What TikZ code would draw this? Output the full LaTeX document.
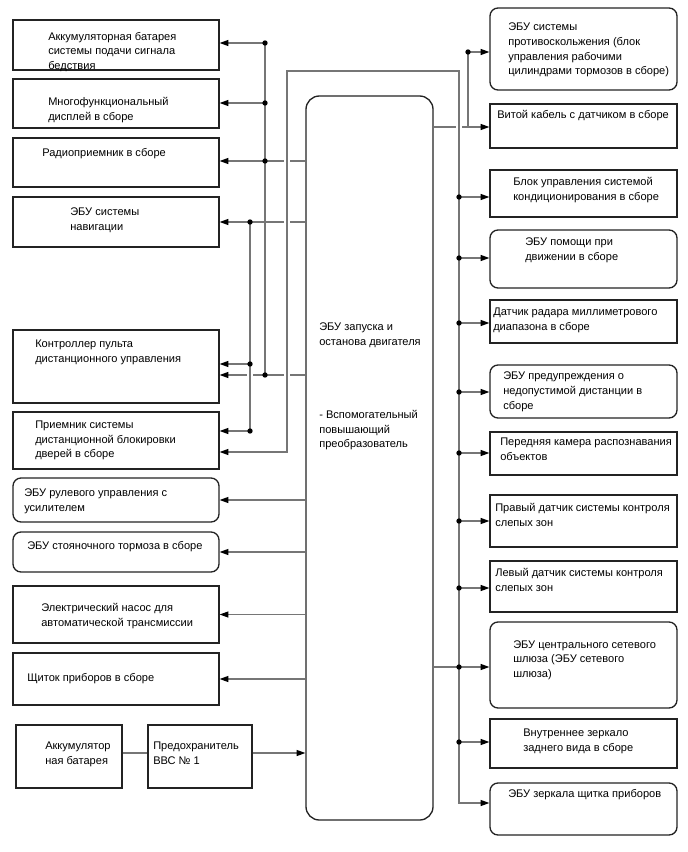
\documentclass[tikz,border=0pt]{standalone}
\usepackage{fontspec}
\setmainfont{Liberation Sans}
\usetikzlibrary{arrows.meta,positioning,fit}
\definecolor{wiregray}{RGB}{118,118,118}
\definecolor{framegray}{RGB}{35,35,35}

\begin{document}
\begin{tikzpicture}[
  x=0.75pt, y=-0.75pt,
  every node/.style={font=\fontsize{8.3}{10.9}\selectfont},
  blk/.style={draw=framegray, line width=1pt, inner sep=0pt},
  rblk/.style={blk, rounded corners=6pt},
  txt/.style={inner sep=0pt, align=left, anchor=north west},
  wire/.style={draw=wiregray, line width=0.8pt},
  tip/.tip={Triangle[length=6.5pt,width=4.5pt,color=black]},
  arr/.style={wire, -tip},
  halo/.style={draw=white, line width=4.5pt},
]
  \useasboundingbox (0,0) rectangle (688,852);

  % Engine stop-start ECU
  \node[blk, rounded corners=10pt, fit={(306,96) (433,820)}] (ecu) {};
  \node[txt] (ecutxt) at (319,323) {ЭБУ запуска и\\останова двигателя};
  \node[txt] (ecuconv) at (319,410) {- Вспомогательный\\повышающий\\преобразователь};

  % Left column
  \node[blk, fit={(13,20) (219,70)}] (l1) {};
  \node[txt] (l1txt) at (48,32) {Аккумуляторная батарея\\системы подачи сигнала\\бедствия};
  \node[blk, fit={(13,79) (219,128)}] (l2) {};
  \node[txt] (l2txt) at (48,97) {Многофункциональный\\дисплей в сборе};
  \node[blk, fit={(13,138) (219,187)}] (l3) {};
  \node[txt] (l3txt) at (42,148) {Радиоприемник в сборе};
  \node[blk, fit={(13,197) (219,247)}] (l4) {};
  \node[txt] (l4txt) at (70,208) {ЭБУ системы\\навигации};
  \node[blk, fit={(13,330) (219,403)}] (l5) {};
  \node[txt] (l5txt) at (35,340) {Контроллер пульта\\дистанционного управления};
  \node[blk, fit={(13,412) (219,469)}] (l6) {};
  \node[txt] (l6txt) at (35,421) {Приемник системы\\дистанционной блокировки\\дверей в сборе};
  \node[rblk, fit={(13,478) (219,522)}] (l7) {};
  \node[txt] (l7txt) at (24,489) {ЭБУ рулевого управления с\\усилителем};
  \node[rblk, fit={(13,532) (219,572)}] (l8) {};
  \node[txt] (l8txt) at (27,541) {ЭБУ стояночного тормоза в сборе};
  \node[blk, fit={(13,586) (219,643)}] (l9) {};
  \node[txt] (l9txt) at (41,603) {Электрический насос для\\автоматической трансмиссии};
  \node[blk, fit={(13,653) (219,705)}] (l10) {};
  \node[txt] (l10txt) at (27,673) {Щиток приборов в сборе};

  % Battery and fuse
  \node[blk, fit={(16,725) (122,788)}] (bat) {};
  \node[txt] (battxt) at (45,742) {Аккумулятор\\ная батарея};
  \node[blk, fit={(148,725) (252,788)}] (fuse) {};
  \node[txt] (fusetxt) at (153,742) {Предохранитель\\ВВС № 1};

  % Right column
  \node[rblk, fit={(490,8) (677,90)}] (r1) {};
  \node[txt] (r1txt) at (508,23) {ЭБУ системы\\противоскольжения (блок\\управления рабочими\\цилиндрами тормозов в сборе)};
  \node[blk, fit={(490,104) (677,148)}] (r2) {};
  \node[txt] (r2txt) at (497,110) {Витой кабель с датчиком в сборе};
  \node[blk, fit={(490,170) (677,217)}] (r3) {};
  \node[txt] (r3txt) at (513,177) {Блок управления системой\\кондиционирования в сборе};
  \node[rblk, fit={(490,230) (677,288)}] (r4) {};
  \node[txt] (r4txt) at (525,238) {ЭБУ помощи при\\движении в сборе};
  \node[blk, fit={(490,300) (677,343)}] (r5) {};
  \node[txt] (r5txt) at (493,308) {Датчик радара миллиметрового\\диапазона в сборе};
  \node[rblk, fit={(490,365) (677,418)}] (r6) {};
  \node[txt] (r6txt) at (503,372) {ЭБУ предупреждения о\\недопустимой дистанции в\\сборе};
  \node[blk, fit={(490,432) (677,475)}] (r7) {};
  \node[txt] (r7txt) at (500,438) {Передняя камера распознавания\\объектов};
  \node[blk, fit={(490,495) (677,547)}] (r8) {};
  \node[txt] (r8txt) at (495,503) {Правый датчик системы контроля\\слепых зон};
  \node[blk, fit={(490,561) (677,612)}] (r9) {};
  \node[txt] (r9txt) at (495,568) {Левый датчик системы контроля\\слепых зон};
  \node[rblk, fit={(490,622) (677,708)}] (r10) {};
  \node[txt] (r10txt) at (513,640) {ЭБУ центрального сетевого\\шлюза (ЭБУ сетевого\\шлюза)};
  \node[blk, fit={(490,719) (677,768)}] (r11) {};
  \node[txt] (r11txt) at (523,729) {Внутреннее зеркало\\заднего вида в сборе};
  \node[rblk, fit={(490,783) (677,835)}] (r12) {};
  \node[txt] (r12txt) at (508,789) {ЭБУ зеркала щитка приборов};

  % Junctions
  \coordinate (A1) at (265,43);
  \coordinate (A2) at (265,103);
  \coordinate (A3) at (265,161);
  \coordinate (A5) at (265,375);
  \coordinate (B4) at (250,222);
  \coordinate (B5) at (250,364);
  \coordinate (B6) at (250,431);
  \coordinate (C1) at (287,452);
  \coordinate (C2) at (287,71);
  \coordinate (C3) at (459,71);
  \coordinate (C4) at (459,803);
  \coordinate (S1) at (468,52);
  \coordinate (S2) at (468,127);
  \coordinate (R3) at (459,197);
  \coordinate (R4) at (459,258);
  \coordinate (R5) at (459,323);
  \coordinate (R6) at (459,392);
  \coordinate (R7) at (459,453);
  \coordinate (R8) at (459,521);
  \coordinate (R9) at (459,588);
  \coordinate (R10) at (459,667);
  \coordinate (R11) at (459,742);

  % Left wiring
  \draw[wire] (A1) -- (A5);
  \draw[arr] (A1) -- (A1 -| l1.east);
  \draw[arr] (A2) -- (A2 -| l2.east);
  \draw[arr] (ecu.west |- A3) -- (A3 -| l3.east);
  \draw[arr] (ecu.west |- A5) -- (A5 -| l5.east);
  \draw[halo] (B4) -- (B6);
  \draw[wire] (B4) -- (B6);
  \draw[arr] (ecu.west |- B4) -- (B4 -| l4.east);
  \draw[arr] (B5) -- (B5 -| l5.east);
  \draw[arr] (B6) -- (B6 -| l6.east);

  % Right wiring
  \draw[arr] (ecu.east |- S2) -- (S2 -| r2.west);
  \draw[halo] (C1) -- (C2) -- (C3) -- (C4);
  \draw[wire, tip-tip] (C1 -| l6.east) -- (C1) -- (C2) -- (C3) -- (C4) -- (C4 -| r12.west);
  \draw[wire] (S2) -- (S1);
  \draw[arr] (S1) -- (S1 -| r1.west);
  \draw[wire] (ecu.east |- R10) -- (R10);
  \foreach \n in {3,...,11}
    \draw[arr] (R\n) -- (R\n -| r\n.west);

  % Lower left
  \draw[arr] (ecu.west |- l7) -- (l7.east);
  \draw[arr] (ecu.west |- l8) -- (l8.east);
  \draw[arr] (ecu.west |- l9) -- (l9.east);
  \draw[arr] (ecu.west |- l10) -- (l10.east);
  \draw[wire] (bat.east |- 0,753) -- (fuse.west |- 0,753);
  \draw[arr] (fuse.east |- 0,753) -- (ecu.west |- 0,753);

  % Dots
  \foreach \p in {A1,A2,A3,A5,B4,B5,B6,S1,R3,R4,R5,R6,R7,R8,R9,R10,R11}
    \fill (\p) circle (2pt);
\end{tikzpicture}
\end{document}
